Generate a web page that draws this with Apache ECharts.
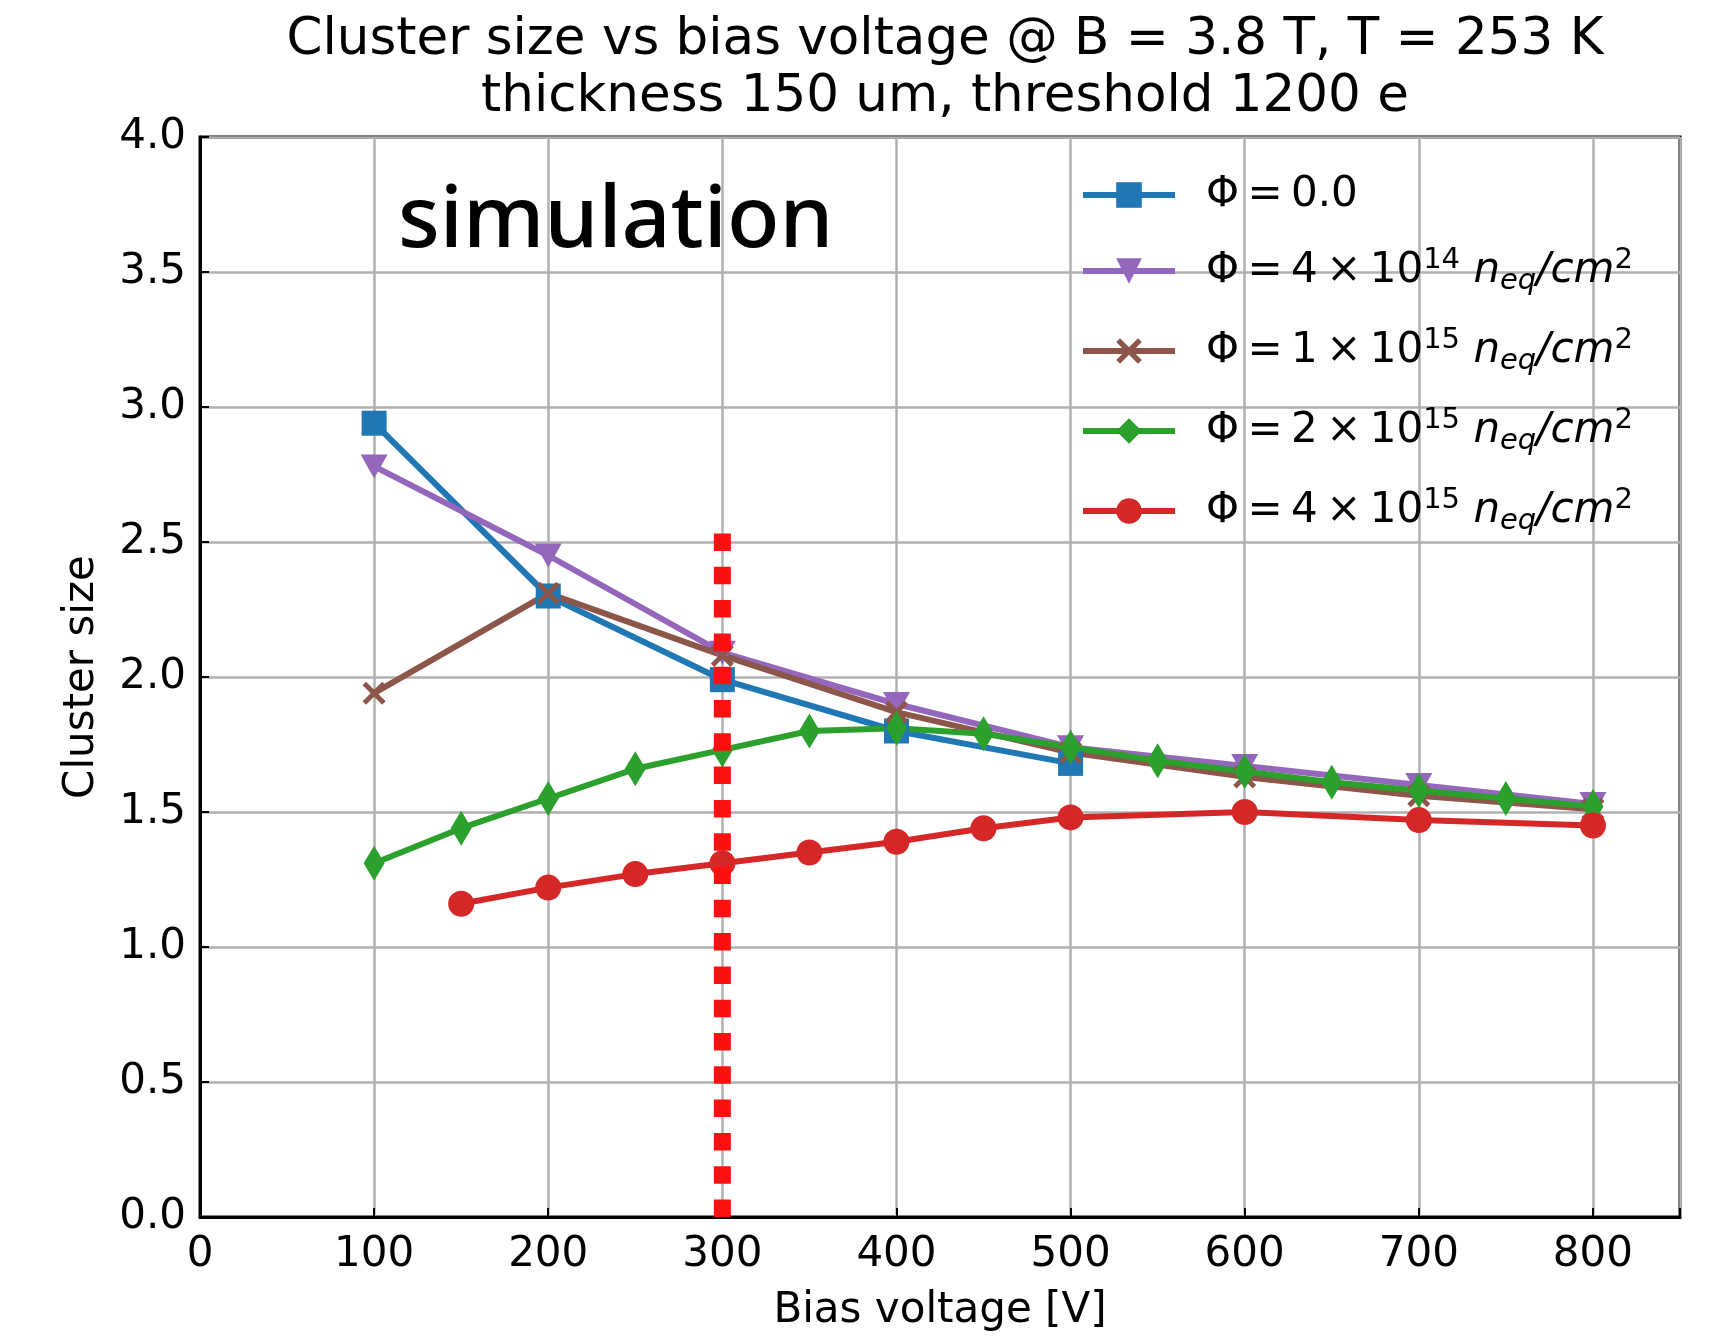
<!DOCTYPE html>
<html>
<head>
<meta charset="utf-8">
<script src="https://cdn.jsdelivr.net/npm/echarts@6/dist/echarts.min.js"></script>
<style>
  html, body { margin: 0; padding: 0; background: #fff; }
  #chart { width: 1711px; height: 1337px; }
</style>
</head>
<body>
<div id="chart"></div>
<script>
// data
var bias100 = [100, 200, 300, 400, 500, 600, 700, 800];
var bias50 = [100, 150, 200, 250, 300, 350, 400, 450, 500, 550, 600, 650, 700, 750, 800];
var biasRed = [150, 200, 250, 300, 350, 400, 450, 500, 600, 700, 800];

var sizePhi0 = [2.94, 2.30, 1.99, 1.80, 1.68];
var sizePhi4e14 = [2.78, 2.45, 2.09, 1.90, 1.74, 1.67, 1.60, 1.53];
var sizePhi1e15 = [1.94, 2.31, 2.08, 1.87, 1.72, 1.63, 1.56, 1.51];
var sizePhi2e15 = [1.31, 1.44, 1.55, 1.66, 1.73, 1.80, 1.81, 1.79, 1.74, 1.69, 1.65, 1.61, 1.58, 1.55, 1.52];
var sizePhi4e15 = [1.16, 1.22, 1.27, 1.31, 1.35, 1.39, 1.44, 1.48, 1.50, 1.47, 1.45];

var cutBias = [300, 300];
var cutSize = [2.5, 0];

var seriesNames = ['phi0', 'phi4e14', 'phi1e15', 'phi2e15', 'phi4e15'];
var TS = '\u2009'; // thin space, like mathtext
var legendLabels = {
    phi0: '{m|Φ' + TS + '=' + TS + '0.0}',
    phi4e14: '{m|Φ' + TS + '=' + TS + '4' + TS + '×' + TS + '10}{p|14}{i| n}{s|eq}{i|/cm}{p|2}',
    phi1e15: '{m|Φ' + TS + '=' + TS + '1' + TS + '×' + TS + '10}{p|15}{i| n}{s|eq}{i|/cm}{p|2}',
    phi2e15: '{m|Φ' + TS + '=' + TS + '2' + TS + '×' + TS + '10}{p|15}{i| n}{s|eq}{i|/cm}{p|2}',
    phi4e15: '{m|Φ' + TS + '=' + TS + '4' + TS + '×' + TS + '10}{p|15}{i| n}{s|eq}{i|/cm}{p|2}'
};

var FONT = 'DejaVu Sans';
var xMark = 'path://M0,3 L3,0 L10,7 L17,0 L20,3 L13,10 L20,17 L17,20 L10,13 L3,20 L0,17 L7,10 Z';

function pairs(xs, ys) {
    var out = [];
    for (var i = 0; i < ys.length; i++) {
        out.push([xs[i], ys[i]]);
    }
    return out;
}

function lineSeries(name, xs, ys, color, symbol, size, rotate) {
    return {
        name: name,
        type: 'line',
        data: pairs(xs, ys),
        symbol: symbol,
        symbolSize: size,
        symbolRotate: rotate || 0,
        showAllSymbol: true,
        lineStyle: {color: color, width: 6},
        itemStyle: {color: color, opacity: 1}
    };
}

var dom = document.getElementById('chart');
var myChart = echarts.init(dom, null, {renderer: 'canvas'});
var option = null;

option = {
    animation: false,
    backgroundColor: '#fff',
    title: {
        text: 'Cluster size vs bias voltage @ B = 3.8 T, T = 253 K\nthickness 150 um, threshold 1200 e',
        left: 940,
        top: 7,
        textAlign: 'center',
        textStyle: {
            fontFamily: FONT,
            fontSize: 51.5,
            fontWeight: 'normal',
            lineHeight: 57,
            color: '#000'
        }
    },
    grid: {
        left: 200,
        right: 31,
        top: 137,
        bottom: 120,
        show: true,
        borderColor: '#000',
        borderWidth: 3
    },
    legend: {
        data: seriesNames,
        orient: 'vertical',
        left: 1080,
        top: 174,
        padding: 0,
        itemWidth: 92,
        itemHeight: 32,
        itemGap: 30,
        lineStyle: {width: 6},
        formatter: function (name) {
            return legendLabels[name];
        },
        textStyle: {
            padding: [0, 0, 0, 26],
            color: '#000',
            rich: {
                m: {fontFamily: FONT, fontSize: 42, lineHeight: 50, color: '#000'},
                i: {fontFamily: FONT, fontSize: 42, fontStyle: 'italic', lineHeight: 50, color: '#000'},
                p: {fontFamily: FONT, fontSize: 29, lineHeight: 18, verticalAlign: 'top', color: '#000'},
                s: {fontFamily: FONT, fontSize: 29, fontStyle: 'italic', lineHeight: 32, verticalAlign: 'bottom', color: '#000'}
            }
        }
    },
    graphic: [{
        type: 'text',
        left: 398,
        top: 179,
        style: {
            text: 'simulation',
            font: '500 86px "Noto Sans"',
            fill: '#000'
        }
    }],
    xAxis: {
        type: 'value',
        min: 0,
        max: 850,
        interval: 100,
        name: 'Bias voltage [V]',
        nameLocation: 'middle',
        nameGap: 73,
        nameTextStyle: {fontFamily: FONT, fontSize: 42, color: '#000'},
        axisLine: {lineStyle: {color: '#000', width: 3}},
        axisTick: {inside: true, length: 9, lineStyle: {color: '#000', width: 2}},
        axisLabel: {
            fontFamily: FONT,
            fontSize: 42,
            color: '#000',
            margin: 17,
            formatter: function (v) {
                return v > 800 ? '' : String(v);
            }
        },
        splitLine: {show: true, lineStyle: {color: '#b0b0b0', width: 2.5}}
    },
    yAxis: {
        type: 'value',
        min: 0,
        max: 4,
        interval: 0.5,
        name: 'Cluster size',
        nameLocation: 'middle',
        nameGap: 97,
        nameTextStyle: {fontFamily: FONT, fontSize: 42, color: '#000'},
        axisLine: {show: true, lineStyle: {color: '#000', width: 3}},
        axisTick: {show: true, inside: true, length: 9, lineStyle: {color: '#000', width: 2}},
        axisLabel: {
            fontFamily: FONT,
            fontSize: 42,
            color: '#000',
            margin: 14,
            formatter: function (v) {
                return v.toFixed(1);
            }
        },
        splitLine: {show: true, lineStyle: {color: '#b0b0b0', width: 2.5}}
    },
    series: [
        lineSeries('phi0', bias100, sizePhi0, '#1f77b4', 'rect', 25),
        lineSeries('phi4e14', bias100, sizePhi4e14, '#9467bd', 'triangle', [27, 24], 180),
        lineSeries('phi1e15', bias100, sizePhi1e15, '#8c564b', xMark, 23),
        lineSeries('phi2e15', bias50, sizePhi2e15, '#2ca02c', 'diamond', [21, 35]),
        lineSeries('phi4e15', biasRed, sizePhi4e15, '#d62728', 'circle', 26),
        { // cut line at 300 V
            name: 'cut',
            type: 'line',
            data: pairs(cutBias, cutSize),
            symbol: 'none',
            z: 10,
            lineStyle: {color: '#ff1010', width: 17, type: [0.5, 32.8], cap: 'square'}
        }
    ]
};

if (option && typeof option === "object") {
    myChart.setOption(option, true);
}
</script>
</body>
</html>
